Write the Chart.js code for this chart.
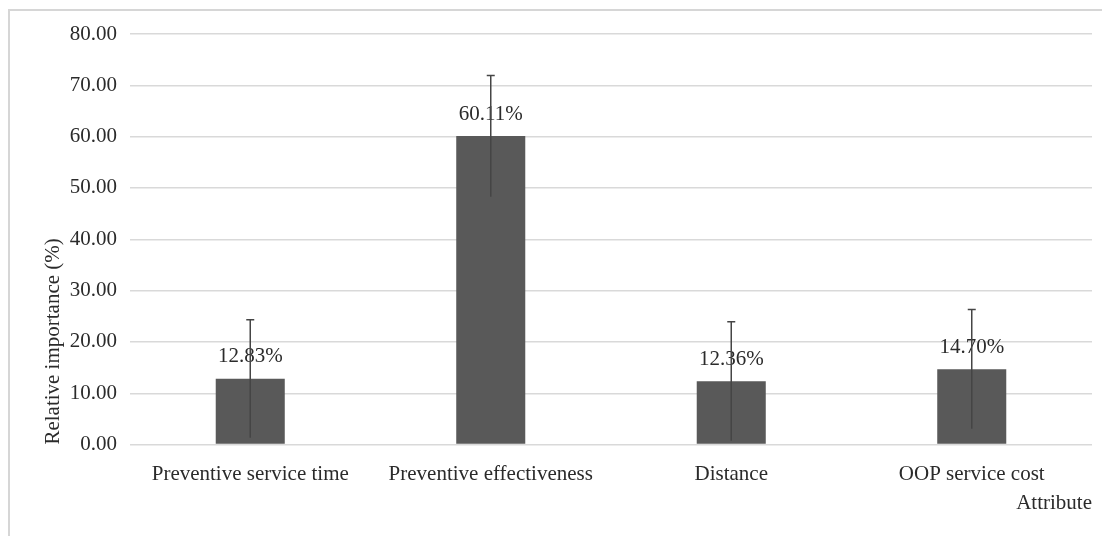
<!DOCTYPE html>
<html>
<head>
<meta charset="utf-8">
<script src="https://cdn.jsdelivr.net/npm/chart.js@4/dist/chart.umd.min.js"></script>
<style>
  body { margin: 0; background: #fff; }
  #wrap { position: absolute; left: 0; top: 0; width: 1102px; height: 536px; }
  #frame { position: absolute; left: 8px; top: 9px; right: 0; bottom: 0;
           border-top: 2px solid #d6d6d6; border-left: 2px solid #d6d6d6; pointer-events: none; }
</style>
</head>
<body>
<div id="wrap"><canvas id="myChart" width="1102" height="536"></canvas></div>
<div id="frame"></div>
<script>
// data
const attributes = ['Preventive service time', 'Preventive effectiveness', 'Distance', 'OOP service cost'];
const importance = [12.83, 60.11, 12.36, 14.70];
const errorSize = [11.5, 11.8, 11.6, 11.6];
const valueLabels = ['12.83%', '60.11%', '12.36%', '14.70%'];

const serif = '"Liberation Serif", "Times New Roman", serif';
const textColor = '#2b2b2b';

//labels above each bar
const barLabels = {
    id: 'barLabels',
    afterDatasetsDraw(chart) {
        const ctx = chart.ctx;
        const meta = chart.getDatasetMeta(0);
        ctx.save();
        ctx.font = '21px ' + serif;
        ctx.fillStyle = textColor;
        ctx.textAlign = 'center';
        ctx.textBaseline = 'middle';
        meta.data.forEach((bar, i) => {
            ctx.fillText(valueLabels[i], bar.x, bar.y - 22);
        });
        ctx.restore();
    }
};

//error bars, drawn on top of the labels
const errorBars = {
    id: 'errorBars',
    afterDraw(chart) {
        const ctx = chart.ctx;
        const y = chart.scales.y;
        const meta = chart.getDatasetMeta(0);
        ctx.save();
        ctx.strokeStyle = '#454545';
        ctx.lineWidth = 1.5;
        meta.data.forEach((bar, i) => {
            const hi = y.getPixelForValue(importance[i] + errorSize[i]);
            const lo = y.getPixelForValue(importance[i] - errorSize[i]);
            ctx.beginPath();
            ctx.moveTo(bar.x, lo);
            ctx.lineTo(bar.x, hi);
            ctx.moveTo(bar.x - 4, hi);
            ctx.lineTo(bar.x + 4, hi);
            ctx.stroke();
        });
        ctx.restore();
    }
};

new Chart(document.getElementById('myChart'), {
    type: 'bar',
    data: {
        labels: attributes,
        datasets: [{
            data: importance,
            backgroundColor: '#595959',
            barPercentage: 0.287,
            categoryPercentage: 1
        }]
    },
    options: {
        responsive: false,
        animation: false,
        layout: { padding: { left: 41, top: 34, right: 10, bottom: 20 } },
        plugins: { legend: { display: false }, tooltip: { enabled: false } },
        scales: {
            x: {
                grid: { display: false },
                border: { display: false },
                ticks: { color: textColor, font: { family: serif, size: 21 }, padding: 9, maxRotation: 0 },
                title: { display: true, text: 'Attribute', align: 'end', color: textColor,
                         font: { family: serif, size: 21 }, padding: { top: -5, bottom: 0 } }
            },
            y: {
                min: 0,
                max: 80,
                afterFit(scale) { scale.width = 89; },
                grid: { color: '#d9d9d9', lineWidth: 1.5, drawTicks: false },
                border: { display: false },
                ticks: {
                    stepSize: 10,
                    padding: 13,
                    color: textColor,
                    font: { family: serif, size: 21 },
                    callback: function(value) { return value.toFixed(2); }
                },
                title: { display: true, text: 'Relative importance (%)', align: 'start', color: textColor,
                         font: { family: serif, size: 21 }, padding: 0 }
            }
        }
    },
    plugins: [barLabels, errorBars]
});
</script>
</body>
</html>
